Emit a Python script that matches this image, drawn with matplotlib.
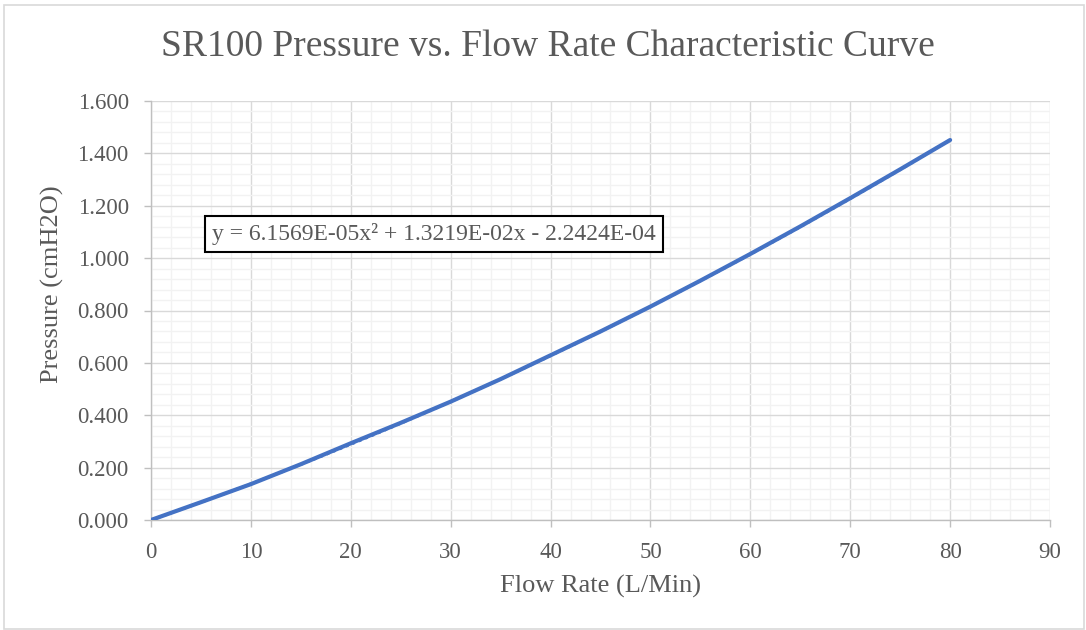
import matplotlib
matplotlib.use("Agg")
import matplotlib.pyplot as plt
import numpy as np
from matplotlib.ticker import MultipleLocator, FormatStrFormatter
from matplotlib.patches import Rectangle

# ---- data ----
flow_rate = [0, 5, 10, 15, 20, 25, 30, 35, 40, 45, 50, 55, 60, 65, 70, 75, 80]
pressure = [0.000, 0.068, 0.137, 0.213, 0.293, 0.371, 0.452, 0.538, 0.629,
            0.720, 0.815, 0.914, 1.016, 1.121, 1.229, 1.339, 1.451]
trend_coeffs = [6.1569e-05, 1.3219e-02, -2.2424e-04]  # a, b, c of the fitted trendline
x_ticks = [0, 10, 20, 30, 40, 50, 60, 70, 80, 90]
y_ticks = [0.0, 0.2, 0.4, 0.6, 0.8, 1.0, 1.2, 1.4, 1.6]
title = "SR100 Pressure vs. Flow Rate Characteristic Curve"
x_label = "Flow Rate (L/Min)"
y_label = "Pressure (cmH2O)"
equation = "y = 6.1569E-05x² + 1.3219E-02x - 2.2424E-04"

plt.rcParams['font.family'] = ['Liberation Serif', 'DejaVu Serif']
TXT = '#595959'
BLUE = '#4472C4'

fig = plt.figure(figsize=(10.86, 6.3), dpi=100)
W, H = 1086, 630
ax = fig.add_axes([151 / W, 1 - 520 / H, (1050 - 151) / W, (520 - 101) / H])

# figure border
fig.patches.append(Rectangle((4 / W, 1 / H), (W - 6) / W, (H - 6) / H,
                             transform=fig.transFigure, fill=False,
                             edgecolor='#D9D9D9', linewidth=1.2))

ax.set_xlim(x_ticks[0], x_ticks[-1])
ax.set_ylim(y_ticks[0], y_ticks[-1])
ax.set_xticks(x_ticks)
ax.set_yticks(y_ticks)
ax.xaxis.set_minor_locator(MultipleLocator(2))
ax.yaxis.set_minor_locator(MultipleLocator(0.04))
ax.yaxis.set_major_formatter(FormatStrFormatter('%.3f'))

ax.grid(which='minor', color='#F2F2F2', linewidth=1.0)
ax.grid(which='major', color='#D9D9D9', linewidth=1.0)
ax.set_axisbelow(True)

for s in ['top', 'right']:
    ax.spines[s].set_visible(False)
for s in ['left', 'bottom']:
    ax.spines[s].set_color('#BFBFBF')
    ax.spines[s].set_linewidth(1.0)

ax.tick_params(which='major', direction='out', length=5, width=1.0,
               color='#BFBFBF', labelcolor=TXT, labelsize=16.5)
ax.tick_params(axis='y', pad=11)
ax.tick_params(axis='x', pad=11)
ax.tick_params(which='minor', length=0)

# data series
ax.plot(flow_rate, pressure, color=BLUE, linewidth=3.0, solid_capstyle='round', zorder=3)
# trendline
xt = np.linspace(flow_rate[0], flow_rate[-1], 200)
a, b, c = trend_coeffs
ax.plot(xt, a * xt ** 2 + b * xt + c, color=BLUE, linewidth=2.0,
        linestyle=(0, (1, 1.5)), zorder=4)

ax.text(6.1, 1.093, equation, fontsize=17, color=TXT, va='center', ha='left',
        bbox=dict(boxstyle='square,pad=0.3', facecolor='white', edgecolor='black',
                  linewidth=1.5), zorder=5)

fig.text(548 / W, 1 - 47 / H, title, fontsize=27, color=TXT, ha='center', va='center')
fig.text(601 / W, 1 - 586 / H, x_label, fontsize=19, color=TXT, ha='center', va='center')
fig.text(52 / W, 1 - 284 / H, y_label, fontsize=19, color=TXT, ha='center',
         va='center', rotation=90)

fig.savefig('out.png', dpi=100, facecolor='white')
